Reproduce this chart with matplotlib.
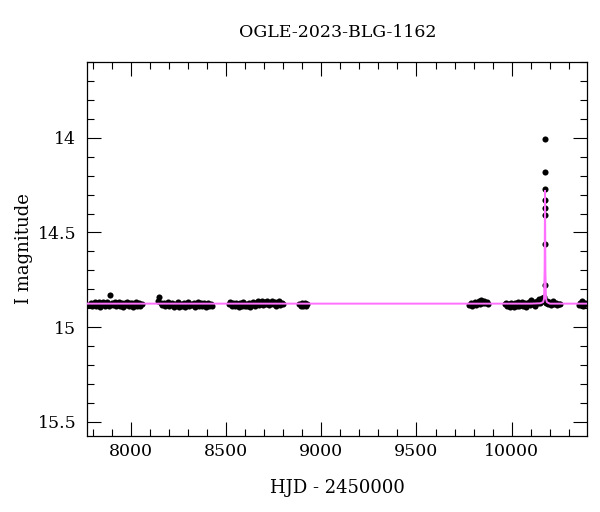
import matplotlib
matplotlib.use("Agg")
import matplotlib.pyplot as plt
from matplotlib.ticker import MultipleLocator

plt.rcParams['font.family'] = ['DejaVu Serif']

# OGLE photometry
t_s1 = [7782, 7789, 7796, 7803, 7810, 7818, 7825, 7832, 7840, 7847, 7855, 7862, 7870, 7877,
        7885, 7892, 7899, 7907, 7914, 7922, 7929, 7937, 7944, 7952, 7959, 7967, 7974, 7982,
        7989, 7997, 8004, 8012, 8019, 8027, 8034, 8042, 8049, 8056]
m_s1 = [14.884, 14.870, 14.890, 14.876, 14.868, 14.888, 14.879, 14.866, 14.892, 14.874, 14.869, 14.886,
        14.877, 14.866, 14.889, 14.830, 14.872, 14.884, 14.868, 14.891, 14.876, 14.867, 14.887, 14.873,
        14.893, 14.870, 14.881, 14.866, 14.889, 14.875, 14.871, 14.892, 14.879, 14.868, 14.886, 14.874,
        14.890, 14.880]

t_s2 = [8143, 8150, 8157, 8165, 8172, 8180, 8187, 8195, 8202, 8210, 8217, 8225, 8232, 8240,
        8247, 8255, 8262, 8270, 8277, 8285, 8292, 8300, 8307, 8315, 8322, 8330, 8337, 8345,
        8352, 8360, 8367, 8375, 8382, 8390, 8397, 8405, 8412, 8420, 8427]
m_s2 = [14.862, 14.842, 14.870, 14.885, 14.872, 14.889, 14.876, 14.868, 14.891, 14.879, 14.870, 14.893,
        14.876, 14.884, 14.869, 14.894, 14.878, 14.887, 14.871, 14.896, 14.880, 14.868, 14.890, 14.877,
        14.885, 14.870, 14.892, 14.879, 14.868, 14.888, 14.875, 14.890, 14.871, 14.883, 14.892, 14.874,
        14.886, 14.878, 14.889]

t_s3 = [8515, 8522, 8530, 8537, 8545, 8552, 8560, 8567, 8575, 8582, 8590, 8597, 8605, 8612,
        8620, 8627, 8635, 8642, 8650, 8657, 8665, 8672, 8680, 8687, 8695, 8702, 8710, 8717,
        8725, 8732, 8740, 8747, 8755, 8762, 8770, 8777, 8785, 8792, 8798]
m_s3 = [14.880, 14.869, 14.888, 14.875, 14.891, 14.871, 14.884, 14.893, 14.874, 14.886, 14.868, 14.890,
        14.878, 14.887, 14.870, 14.892, 14.876, 14.866, 14.889, 14.873, 14.862, 14.885, 14.871, 14.860,
        14.882, 14.866, 14.876, 14.861, 14.884, 14.870, 14.863, 14.880, 14.866, 14.887, 14.872, 14.864,
        14.881, 14.870, 14.878]

t_s4 = [8885, 8892, 8899, 8906, 8913, 8920, 8927]
m_s4 = [14.878, 14.890, 14.870, 14.886, 14.874, 14.891, 14.880]

t_s5 = [9778, 9785, 9792, 9799, 9806, 9813, 9820, 9827, 9834, 9841, 9848, 9855, 9862, 9869, 9876]
m_s5 = [14.884, 14.872, 14.889, 14.876, 14.866, 14.884, 14.870, 14.862, 14.878, 14.858, 14.872, 14.860,
        14.875, 14.866, 14.878]

t_s6 = [9963, 9970, 9977, 9984, 9991, 9998, 10005, 10012, 10019, 10026, 10033, 10040, 10047,
        10054, 10061, 10068, 10075, 10082, 10089, 10096, 10103, 10110, 10117, 10124, 10131,
        10138, 10144, 10150, 10155, 10160, 10164, 10168, 10171,
        10181, 10186, 10192, 10198, 10204, 10210, 10217, 10224, 10231, 10238, 10246, 10254]
m_s6 = [14.880, 14.872, 14.889, 14.877, 14.892, 14.870, 14.884, 14.893, 14.874, 14.887, 14.868, 14.890,
        14.877, 14.866, 14.886, 14.872, 14.892, 14.879, 14.865, 14.884, 14.858, 14.878, 14.866, 14.886,
        14.862, 14.874, 14.852, 14.870, 14.858, 14.845, 14.862, 14.840, 14.855,
        14.872, 14.860, 14.880, 14.866, 14.885, 14.872, 14.862, 14.880, 14.870, 14.884, 14.876, 14.880]

t_peak = [10174.2, 10174.5, 10174.8, 10175.0, 10175.2, 10175.4, 10175.6, 10176.0]
m_peak = [14.560, 14.270, 14.180, 14.005, 14.330, 14.370, 14.410, 14.780]

t_s7 = [10352, 10360, 10368, 10376, 10384, 10392]
m_s7 = [14.882, 14.870, 14.864, 14.886, 14.874, 14.880]

# microlensing model
t_model = [7700, 10100, 10150, 10165, 10170, 10173, 10175, 10177, 10180, 10185, 10200, 10450]
m_model = [14.876, 14.876, 14.874, 14.868, 14.850, 14.700, 14.280, 14.700, 14.850, 14.868, 14.876, 14.876]

t_obs = t_s1 + t_s2 + t_s3 + t_s4 + t_s5 + t_s6 + t_s7 + t_peak
m_obs = m_s1 + m_s2 + m_s3 + m_s4 + m_s5 + m_s6 + m_s7 + m_peak

fig = plt.figure(figsize=(6.0, 5.12), dpi=100)
ax = fig.add_axes([0.1455, 0.1484, 0.8333, 0.7305])

ax.plot(t_obs, m_obs, 'o', color='black', ms=4.4, mew=0, zorder=2)
ax.plot(t_model, m_model, '-', color='#ff70ff', lw=1.4, zorder=3)

ax.set_xlim(7771, 10397)
ax.set_ylim(15.575, 13.6)

ax.xaxis.set_major_locator(MultipleLocator(500))
ax.xaxis.set_minor_locator(MultipleLocator(100))
ax.yaxis.set_major_locator(MultipleLocator(0.5))
ax.yaxis.set_minor_locator(MultipleLocator(0.1))
ax.yaxis.set_major_formatter(plt.FuncFormatter(lambda v, p: f"{v:g}"))

ax.tick_params(which='both', direction='in', top=True, right=True, labelsize=12.5, width=0.8)
ax.tick_params(which='major', length=10)
ax.tick_params(axis='x', which='major', pad=5)
ax.tick_params(axis='y', which='major', pad=8)
ax.tick_params(which='minor', length=5)
for sp in ax.spines.values():
    sp.set_linewidth(0.9)

ax.set_xlabel('HJD - 2450000', fontsize=13, labelpad=14)
ax.set_ylabel('I magnitude', fontsize=13, labelpad=3)
ax.set_title('OGLE-2023-BLG-1162', fontsize=12.5, pad=18)

fig.savefig('out.png', dpi=100)
